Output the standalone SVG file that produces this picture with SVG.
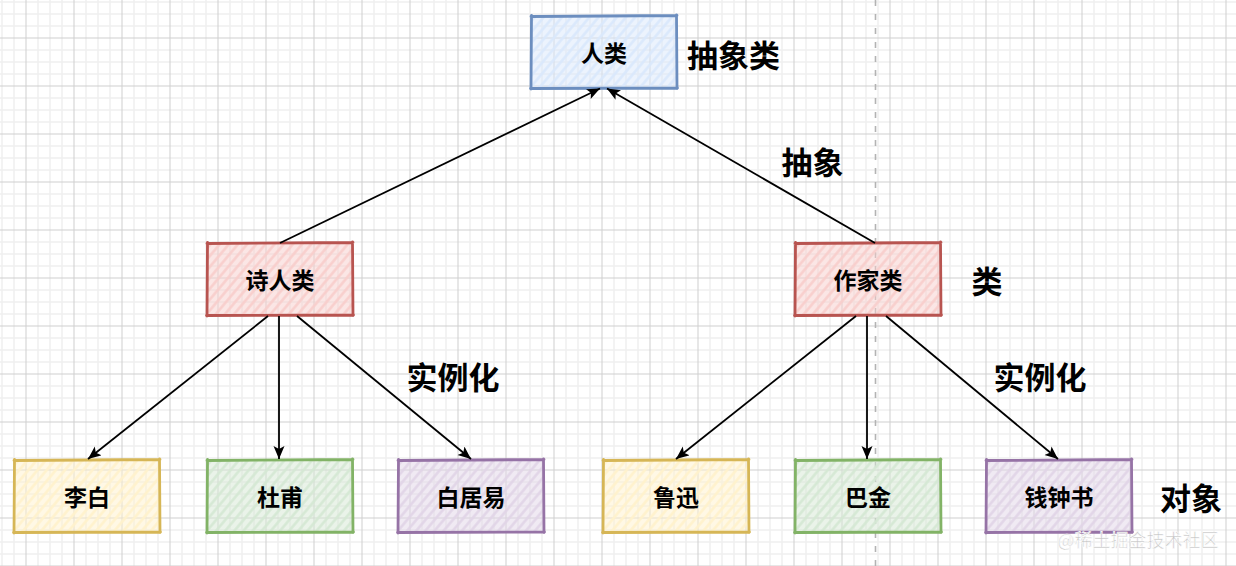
<svg xmlns="http://www.w3.org/2000/svg" xmlns:xlink="http://www.w3.org/1999/xlink" width="1236" height="566" viewBox="0 0 1236 566">
<defs>
<pattern id="grid" x="-4" y="-4" width="48" height="48" patternUnits="userSpaceOnUse">
<path d="M6,0V48M18,0V48M42,0V48M0,6H48M0,18H48M0,30H48" stroke="#efefef" stroke-width="1.5" fill="none"/>
<path d="M30,0V48M0,42H48" stroke="#cfcfcf" stroke-width="1" fill="none"/>
</pattern>
<pattern id="hBlue" width="7" height="7" patternUnits="userSpaceOnUse" patternTransform="rotate(40)">
<rect width="7" height="7" fill="#dae8fc" fill-opacity="0.5"/>
<line x1="3.5" y1="0" x2="3.5" y2="7" stroke="#dae8fc" stroke-width="2.5"/>
</pattern>
<pattern id="hRed" width="7" height="7" patternUnits="userSpaceOnUse" patternTransform="rotate(40)">
<rect width="7" height="7" fill="#f8cecc" fill-opacity="0.5"/>
<line x1="3.5" y1="0" x2="3.5" y2="7" stroke="#f8cecc" stroke-width="2.5"/>
</pattern>
<pattern id="hYellow" width="7" height="7" patternUnits="userSpaceOnUse" patternTransform="rotate(40)">
<rect width="7" height="7" fill="#fff2cc" fill-opacity="0.5"/>
<line x1="3.5" y1="0" x2="3.5" y2="7" stroke="#fff2cc" stroke-width="2.5"/>
</pattern>
<pattern id="hGreen" width="7" height="7" patternUnits="userSpaceOnUse" patternTransform="rotate(40)">
<rect width="7" height="7" fill="#d5e8d4" fill-opacity="0.5"/>
<line x1="3.5" y1="0" x2="3.5" y2="7" stroke="#d5e8d4" stroke-width="2.5"/>
</pattern>
<pattern id="hPurple" width="7" height="7" patternUnits="userSpaceOnUse" patternTransform="rotate(40)">
<rect width="7" height="7" fill="#e1d5e7" fill-opacity="0.5"/>
<line x1="3.5" y1="0" x2="3.5" y2="7" stroke="#e1d5e7" stroke-width="2.5"/>
</pattern>
<path id="box" d="M0,0.5 L146,-0.5 M145.5,-1 L146,72.5 M146.5,72 L-0.5,72.5 M0,73 L0.5,-0.5"/>
<rect id="boxfill" x="0" y="0" width="146" height="72"/>
<marker id="arrow" markerUnits="userSpaceOnUse" markerWidth="16" markerHeight="14" refX="13" refY="5.5" orient="auto">
<path d="M0,0 L13,5.5 L0,11 L3,5.5 Z" fill="#000"/>
</marker>
</defs>
<style>
.box{stroke-width:2.8;stroke-linecap:round;fill:none}
.blue .box{stroke:#6c8ebf}.blue .bf{fill:url(#hBlue)}
.red .box{stroke:#b85450}.red .bf{fill:url(#hRed)}
.yellow .box{stroke:#d6b656}.yellow .bf{fill:url(#hYellow)}
.green .box{stroke:#82b366}.green .bf{fill:url(#hGreen)}
.purple .box{stroke:#9673a6}.purple .bf{fill:url(#hPurple)}
.nt{font-family:"Noto Sans CJK SC","Noto Sans",sans-serif;font-weight:bold;font-size:23px;fill:#000;text-anchor:middle;dominant-baseline:central}
.lbl{font-family:"Noto Sans CJK SC","Noto Sans",sans-serif;font-weight:bold;font-size:31px;fill:#000;text-anchor:middle;dominant-baseline:central}
.edge{stroke:#000;stroke-width:1.8;fill:none;marker-end:url(#arrow)}
</style>
<rect width="1236" height="566" fill="#fff"/>
<rect width="1236" height="566" fill="url(#grid)"/>
<line x1="875.5" y1="0" x2="875.5" y2="566" stroke="#b3b3b3" stroke-width="1.6" stroke-dasharray="6 8"/>

<g id="node-renlei" class="blue" transform="translate(531,16)">
<use xlink:href="#boxfill" class="bf"/><use xlink:href="#box" class="box"/>
<text class="nt" x="73" y="36">人类</text>
</g>
<g id="node-shirenlei" class="red" transform="translate(207,243)">
<use xlink:href="#boxfill" class="bf"/><use xlink:href="#box" class="box"/>
<text class="nt" x="73" y="36">诗人类</text>
</g>
<g id="node-zuojialei" class="red" transform="translate(795,243)">
<use xlink:href="#boxfill" class="bf"/><use xlink:href="#box" class="box"/>
<text class="nt" x="73" y="36">作家类</text>
</g>
<g id="node-libai" class="yellow" transform="translate(14,460)">
<use xlink:href="#boxfill" class="bf"/><use xlink:href="#box" class="box"/>
<text class="nt" x="73" y="36">李白</text>
</g>
<g id="node-dufu" class="green" transform="translate(207,460)">
<use xlink:href="#boxfill" class="bf"/><use xlink:href="#box" class="box"/>
<text class="nt" x="73" y="36">杜甫</text>
</g>
<g id="node-baijuyi" class="purple" transform="translate(398,460)">
<use xlink:href="#boxfill" class="bf"/><use xlink:href="#box" class="box"/>
<text class="nt" x="73" y="36">白居易</text>
</g>
<g id="node-luxun" class="yellow" transform="translate(603,460)">
<use xlink:href="#boxfill" class="bf"/><use xlink:href="#box" class="box"/>
<text class="nt" x="73" y="36">鲁迅</text>
</g>
<g id="node-bajin" class="green" transform="translate(795,460)">
<use xlink:href="#boxfill" class="bf"/><use xlink:href="#box" class="box"/>
<text class="nt" x="73" y="36">巴金</text>
</g>
<g id="node-qianzhongshu" class="purple" transform="translate(986,460)">
<use xlink:href="#boxfill" class="bf"/><use xlink:href="#box" class="box"/>
<text class="nt" x="73" y="36">钱钟书</text>
</g>

<g id="connectors">
<line class="edge" x1="280" y1="243" x2="600" y2="88.5"/>
<line class="edge" x1="875" y1="243" x2="607" y2="88.5"/>
<line class="edge" x1="268" y1="316" x2="88" y2="459"/>
<line class="edge" x1="279" y1="316" x2="279" y2="459"/>
<line class="edge" x1="297" y1="316" x2="471" y2="459"/>
<line class="edge" x1="856" y1="316" x2="676" y2="459"/>
<line class="edge" x1="867" y1="316" x2="867" y2="459"/>
<line class="edge" x1="886" y1="316" x2="1058" y2="459"/>
</g>

<g id="labels">
<text class="lbl" x="733.5" y="53">抽象类</text>
<text class="lbl" x="812.5" y="160">抽象</text>
<text class="lbl" x="987" y="279">类</text>
<text class="lbl" x="453" y="375">实例化</text>
<text class="lbl" x="1040" y="375">实例化</text>
<text class="lbl" x="1191" y="496">对象</text>
</g>
<text x="1138" y="539" font-family="'Noto Sans CJK SC','Noto Sans',sans-serif" font-size="18" fill="#c4c4c4" stroke="#ffffff" stroke-width="0.6" text-anchor="middle" dominant-baseline="central">@稀土掘金技术社区</text>
</svg>
